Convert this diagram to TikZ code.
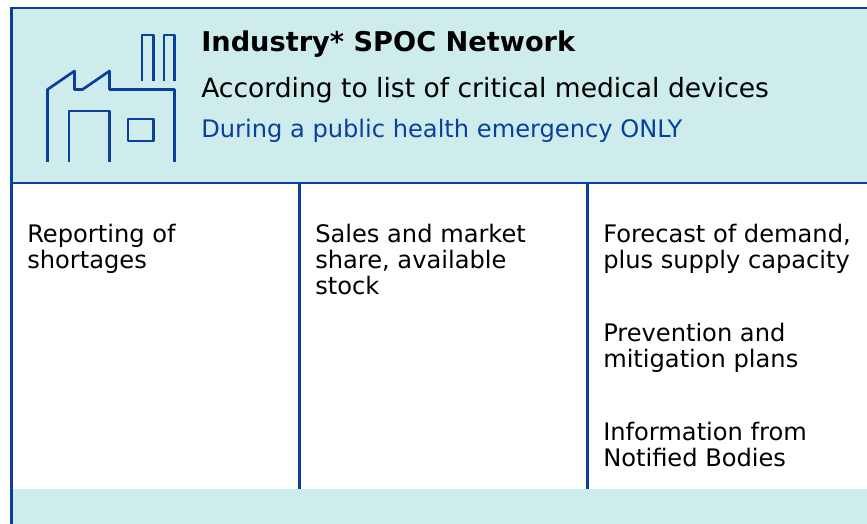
\documentclass[tikz,border=0pt]{standalone}
\usepackage{fontspec}
\setmainfont{DejaVu Sans}
\definecolor{tealbg}{HTML}{CDECEB}
\definecolor{navy}{HTML}{0A3FA0}
\tikzset{
  px/.style={x=0.75pt,y=-0.75pt},
  rule/.style={draw=navy,line width=2.2pt},
  icon/.style={draw=navy,line width=2pt,line join=round},
  body/.style={inner sep=0pt,anchor=north west,align=left,text=black,font=\fontsize{18.1}{19.5}\selectfont},
  head/.style={inner sep=0pt,anchor=base west}
}
\begin{document}
\begin{tikzpicture}[px]
\useasboundingbox (0,0) rectangle (867,524);
\fill[white] (0,0) rectangle (867,524);
\fill[tealbg] (12,8) rectangle (867,183);
\fill[tealbg] (12,489) rectangle (867,524);
\coordinate (tl) at (11.5,8);
\coordinate (tr) at (867,8);
\coordinate (bl) at (11.5,524);
\coordinate (ml) at (11.5,183);
\coordinate (mr) at (867,183);
\coordinate (c1t) at (299.5,183);
\coordinate (c1b) at (299.5,489);
\coordinate (c2t) at (587.5,183);
\coordinate (c2b) at (587.5,489);
\draw[rule] (tr) -- (tl) -- (bl);
\draw[rule] (ml) -- (mr);
\draw[rule] (c1t) -- (c1b);
\draw[rule] (c2t) -- (c2b);
% factory
\draw[icon] (47.5,162) -- (47.5,89.5) -- (74.5,71) -- (74.5,89.5) -- (82.5,89.5) -- (109.5,71) -- (109.5,89.5) -- (174.5,89.5) -- (174.5,162);
\draw[icon] (69,162) -- (69,111) -- (109.5,111) -- (109.5,162);
\draw[icon] (128,119) rectangle (153.5,141);
\draw[icon] (142,81) -- (142,35) -- (153.5,35) -- (153.5,81);
\draw[icon] (164,81) -- (164,35) -- (174.5,35) -- (174.5,81);
% text
\node[head,font=\fontsize{20.4}{22}\selectfont\bfseries] (title) at (201,52) {Industry* SPOC Network};
\node[head,font=\fontsize{19.9}{24}\selectfont] (sub) at (201,98) {According to list of critical medical devices};
\node[head,text=navy,font=\fontsize{18.1}{22}\selectfont] (note) at (201,138) {During a public health emergency ONLY};
\node[body] (a) at (27,224) {Reporting of\\shortages};
\node[body] (b) at (315,224) {Sales and market\\share, available\\stock};
\node[body] (c) at (603,224) {Forecast of demand,\\plus supply capacity};
\node[body] (d) at (603,323) {Prevention and\\mitigation plans};
\node[body] (e) at (603,422) {Information from\\Notified Bodies};
\end{tikzpicture}
\end{document}
